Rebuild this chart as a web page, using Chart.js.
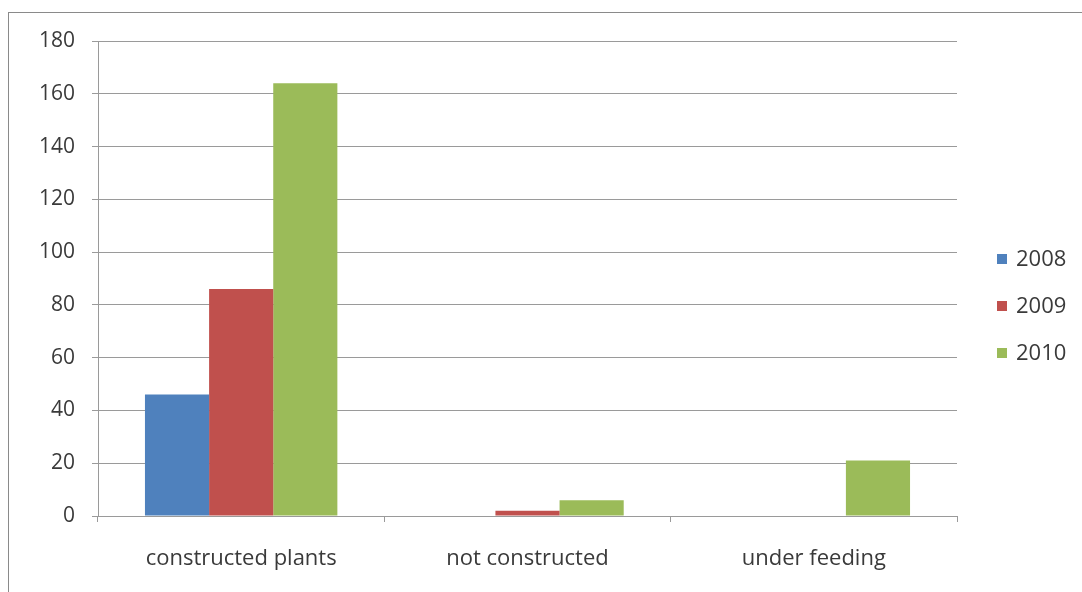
<!DOCTYPE html>
<html>
<head>
<meta charset="utf-8">
<style>
  html, body { margin: 0; padding: 0; background: #ffffff; }
  #wrap { position: absolute; left: 0; top: 0; width: 1082px; height: 592px; }
</style>
<script src="https://cdn.jsdelivr.net/npm/chart.js@4.4.1/dist/chart.umd.min.js"></script>
</head>
<body>
<div id="wrap"><canvas id="c" width="1082" height="592"></canvas></div>
<script>
const categories = ['constructed plants', 'not constructed', 'under feeding'];
const seriesNames = ['2008', '2009', '2010'];
const values2008 = [46, 0, 0];
const values2009 = [86, 2, 0];
const values2010 = [164, 6, 21];
const yTicks = [0, 20, 40, 60, 80, 100, 120, 140, 160, 180];
const colors = ['#4F81BD', '#C0504D', '#9BBB59'];

const FONT = "'Open Sans', 'DejaVu Sans', sans-serif";
const TEXT = '#3a3a3a';
const GRID = '#9a9a9a';

const frame = {
  id: 'frame',
  beforeDraw(chart) {
    const ctx = chart.ctx;
    ctx.save();
    ctx.fillStyle = '#ffffff';
    ctx.fillRect(0, 0, chart.width, chart.height);
    ctx.strokeStyle = '#8a8a8a';
    ctx.lineWidth = 1;
    ctx.strokeRect(8.5, 12.5, 1100, 600);
    ctx.restore();
  }
};

const legendPlugin = {
  id: 'sideLegend',
  afterDraw(chart) {
    const ctx = chart.ctx;
    ctx.save();
    ctx.font = '22px ' + FONT;
    ctx.textBaseline = 'middle';
    ctx.textAlign = 'left';
    const ys = [259, 306, 353];
    chart.data.datasets.forEach((ds, i) => {
      ctx.fillStyle = ds.backgroundColor;
      ctx.fillRect(997, ys[i] - 5, 10, 10);
      ctx.fillStyle = TEXT;
      ctx.fillText(ds.label, 1016, ys[i] + 1);
    });
    ctx.restore();
  }
};

new Chart(document.getElementById('c'), {
  type: 'bar',
  data: {
    labels: categories,
    datasets: [
      { label: seriesNames[0], data: values2008, backgroundColor: colors[0] },
      { label: seriesNames[1], data: values2009, backgroundColor: colors[1] },
      { label: seriesNames[2], data: values2010, backgroundColor: colors[2] }
    ]
  },
  options: {
    responsive: false,
    animation: false,
    devicePixelRatio: 1,
    layout: { padding: { left: 0, top: 41, right: 125, bottom: 0 } },
    datasets: { bar: { categoryPercentage: 0.672, barPercentage: 1.0, borderWidth: 0 } },
    plugins: {
      legend: { display: false },
      tooltip: { enabled: false },
      title: { display: false }
    },
    scales: {
      x: {
        offset: true,
        grid: { display: true, drawOnChartArea: false, drawTicks: true, tickLength: 6, color: GRID, offset: true },
        border: { display: true, color: GRID, width: 1 },
        ticks: { color: TEXT, font: { family: FONT, size: 22 }, padding: 24, maxRotation: 0 },
        afterFit(scale) { scale.height = 76; }
      },
      y: {
        min: 0,
        max: 180,
        afterBuildTicks(scale) { scale.ticks = yTicks.map(v => ({ value: v })); },
        grid: { color: GRID, lineWidth: 1, drawTicks: true, tickLength: 6 },
        border: { display: true, color: GRID, width: 1 },
        ticks: { color: TEXT, font: { family: FONT, size: 21 }, padding: 17 },
        afterFit(scale) { scale.width = 98; }
      }
    }
  },
  plugins: [frame, legendPlugin]
});
</script>
</body>
</html>
